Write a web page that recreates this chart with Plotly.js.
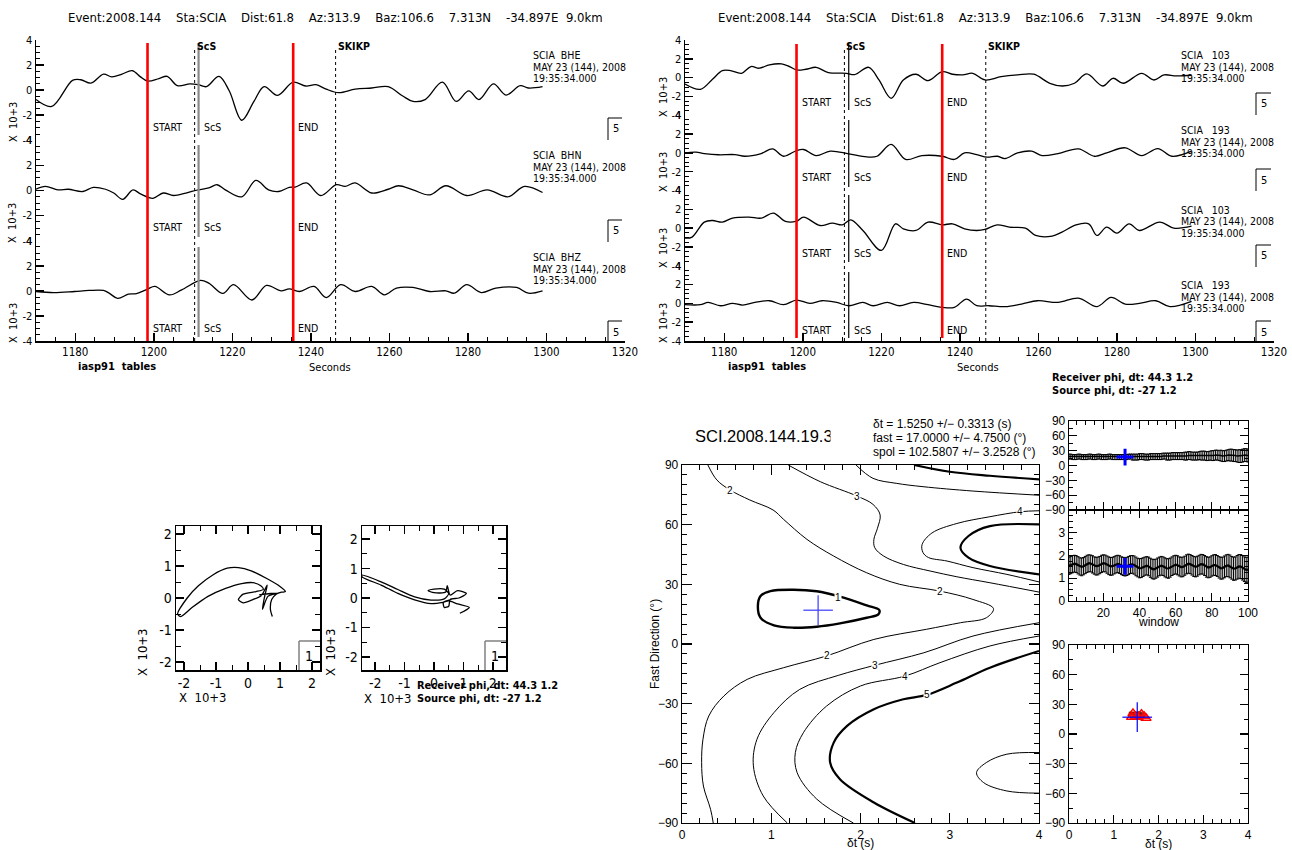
<!DOCTYPE html>
<html>
<head>
<meta charset="utf-8">
<script src="https://cdn.plot.ly/plotly-3.0.1.min.js"></script>
<style>
html,body{margin:0;padding:0;background:#fff}
#plot{width:1292px;height:850px}
</style>
</head>
<body>
<div id="plot"></div>
<script>
// ---------------- seismograms: turning points (s, x10^3 counts) ----------------
const bheT = [1170,1174.0,1179.3,1181.4,1184.0,1187.2,1189.3,1191.9,1194.5,1196.6,1198.4,1201.3,1203.4,1206.0,1209.2,1211.3,1213.4,1216.6,1219.2,1222.4,1225.5,1228.1,1231.5,1235.5,1238.7,1241.3,1243.9,1247.1,1251.3,1255.5,1259.7,1263.4,1266.0,1269.1,1273.5,1277.0,1280.2,1282.8,1286.5,1289.7,1293.3,1295.4,1299];
const bheA = [-0.75,-1.3,0.78,0.83,0.56,1.28,1.06,1.28,1.56,1.06,0.72,0.92,1.1,0.36,0.5,0.44,0.28,1.1,-0.05,-2.4,-0.9,0.28,-0.42,0.64,0.33,0.44,0.08,-0.2,0.08,0.17,0.28,-0.47,-0.9,-0.75,0.64,-0.9,-0.05,-0.75,0.5,-0.39,0.36,0.17,0.28];
const bhnT = [1170,1172.4,1175.6,1178.2,1181.9,1184.6,1187.7,1189.8,1192.1,1194.7,1196.6,1199.8,1202.4,1205.0,1208.2,1211.3,1214.0,1216.1,1218.2,1222.4,1226.0,1229.2,1231.8,1234.5,1236.0,1238.9,1242.5,1246.5,1248.7,1251.3,1255.5,1259.7,1262.3,1266.0,1270.2,1274.4,1279.7,1284.9,1290.2,1294.4,1299];
const bhnA = [0.1,0.33,0.05,0.1,-0.08,0.25,0.1,-0.2,-0.7,0.05,-0.27,-0.62,-0.2,-0.4,-0.2,0.05,0.2,0.46,0.05,-0.5,0.8,0.05,-0.08,0.25,0.27,0.6,-0.4,0.46,0.33,0.6,-0.2,0.1,0.38,0.05,-0.35,0.38,-0.4,0.05,-0.5,0.33,-0.16];
const bhzT = [1170,1174.5,1179.8,1183.5,1187.2,1188.7,1190.8,1193.5,1195.6,1198.4,1200.3,1204.0,1207.1,1211.9,1214.0,1217.6,1220.3,1225.0,1228.7,1232.4,1234.5,1237.1,1240.8,1243.9,1247.6,1251.3,1255.5,1258.7,1261.8,1266.0,1270.2,1274.4,1276.5,1279.7,1283.4,1287.1,1292.4,1295.4,1299];
const bhzA = [-0.05,-0.14,-0.05,0.03,0.03,-0.2,-0.6,-0.27,-0.22,0.14,0.35,-0.32,0.08,0.84,0.62,-0.2,0.49,-0.73,0.43,0,0.16,-0.05,0.35,-0.54,0.49,-0.05,0.35,-0.32,0.22,0.27,-0.05,0,-0.19,0.49,-0.14,0.22,0.27,-0.19,0];

// rotated components, before (a) and after (b) correction
const r103aT = [1170,1173.9,1177.0,1179.5,1181.6,1184.4,1186.8,1188.9,1191.5,1194.6,1196.6,1198.4,1200.8,1203.4,1206.5,1211.1,1213.2,1216.8,1219.4,1222.5,1225.6,1228.8,1231.9,1235.5,1238.1,1240.7,1243.3,1246.4,1250.5,1254.7,1258.8,1262.9,1266.1,1269.2,1272.3,1276.4,1279.0,1281.6,1286.3,1289.4,1292.0,1295.1,1299];
const r103aA = [-0.68,-1.25,-0.18,0.75,0.75,0.46,1.18,1.0,1.36,1.46,1.18,0.82,0.89,1.1,0.54,0.46,0.32,1.1,-0.25,-2.2,-0.25,0.36,-0.32,0.64,0.36,0.29,0.46,-0.25,0.1,0.29,0.36,-0.6,-0.89,-0.6,0.39,-0.89,-0.07,-0.6,0.46,-0.25,0.29,0.18,0.25];
const r193aT = [1170,1172.8,1174.9,1178.5,1182.7,1185.2,1189.4,1192.3,1195.1,1198.4,1200.2,1203.4,1207.0,1211.7,1216.3,1218.9,1222.5,1226.2,1230.3,1235.5,1238.6,1241.2,1244.3,1246.9,1249.5,1251.5,1254.7,1258.3,1260.9,1265.0,1270.2,1274.3,1277.4,1282.1,1286.3,1290.4,1294.0,1299];
const r193aA = [0,0.07,-0.07,-0.2,-0.18,-0.36,-0.07,0.43,-0.36,0.25,0.36,-0.29,0.18,-0.1,-0.43,-0.36,0.9,-0.7,-0.29,-0.36,-0.7,0,-0.18,-0.46,-0.36,-0.6,0,0.18,-0.29,-0.07,0.43,-0.36,0,0.54,-0.29,0.46,-0.36,0.18];
const r103bT = [1170,1171.8,1174.9,1177.0,1179.5,1182.1,1186.3,1189.4,1192.5,1195.6,1198.4,1200.2,1204.4,1207.5,1210.1,1212.2,1215.3,1220.0,1223.6,1225.6,1228.8,1231.9,1235.5,1238.1,1241.2,1244.3,1246.4,1249.5,1252.6,1256.7,1259.3,1263.5,1266.0,1269.6,1272.8,1274.9,1277.4,1280.0,1283.1,1285.7,1290.9,1294.5,1299];
const r103bA = [-1.06,-0.95,0.64,0.81,0.64,1.06,1.17,1.06,1.6,0.71,0.74,1.17,0.28,0.53,0.35,0.88,-0.25,-2.37,0.46,-0.07,-0.25,0.64,0.35,0.46,-0.07,-0.25,-0.14,0.35,0.1,0,-0.78,-0.85,-0.42,0.35,0.46,-0.78,0.1,-0.53,0.46,-0.25,0.64,0,0.2];
const r193bT = [1170,1173.9,1175.9,1179.0,1182.1,1184.7,1187.8,1191.5,1195.1,1198.4,1201.8,1204.9,1208.6,1211.7,1215.3,1217.9,1221.5,1224.6,1228.2,1231.9,1235.5,1238.6,1241.7,1244.3,1247.4,1251.5,1255.7,1259.8,1265.0,1270.2,1274.9,1278.5,1282.1,1285.7,1289.9,1293.5,1299];
const r193bA = [-0.14,-0.14,0.1,-0.25,0,-0.18,0.1,0.28,-0.14,0.35,0,0.28,0.1,-0.25,0.1,-0.25,0.1,-0.25,0.1,-0.14,-0.42,-0.42,0.46,-0.25,-0.25,-0.35,-0.07,0.28,0.1,0.56,-0.35,0.64,-0.07,0,0.28,-0.35,0.21];

// picks and predicted phases (s): [left panel, right panel]
const windowStart = [1198.4, 1198.4];
const windowEnd   = [1235.5, 1235.5];
const scsPick     = [1211.4, 1211.7];
const scsPred     = [1210.4, 1210.6];
const skikpPred   = [1246.3, 1246.6];

const leftLabels  = ['SCIA  BHE', 'SCIA  BHN', 'SCIA  BHZ'];
const rightLabels = ['SCIA   103', 'SCIA   193', 'SCIA   103', 'SCIA   193'];
const dateLine = 'MAY 23 (144), 2008';
const timeLine = '19:35:34.000';
const headerText = 'Event:2008.144    Sta:SCIA    Dist:61.8    Az:313.9    Baz:106.6    7.313N    -34.897E  9.0km';

// ---------------- particle motion (x10^3) ----------------
const pm1X = [0.76,0.70,0.74,0.88,1.05,1.17,1.00,0.60,0.10,-0.30,-0.65,-1.10,-1.55,-1.90,-2.20,-2.10,-1.75,-1.25,-0.70,-0.20,0.15,0.40,0.48,0.25,-0.15,-0.30,-0.15,0.15,0.42,0.60,0.52,0.45,0.62,0.80,1.00,0.70,0.35];
const pm1Y = [-0.58,-0.35,-0.05,0.12,0.18,0.20,0.36,0.60,0.85,0.95,0.93,0.72,0.38,0.00,-0.50,-0.58,-0.30,0.05,0.30,0.45,0.48,0.38,0.27,0.20,0.12,-0.05,-0.15,-0.05,0.08,0.40,0.05,-0.35,0.05,0.12,0.16,0.14,0.10];
const pm2X = [0.88,1.20,0.80,0.50,0.30,-0.10,-0.66,-1.23,-1.80,-2.45,-2.45,-1.80,-1.23,-0.66,-0.10,0.35,0.50,0.35,0.00,-0.20,0.00,0.40,0.45,0.55,0.80,1.10,0.85,0.55,0.50,0.35,0.32,0.60];
const pm2Y = [-0.52,-0.32,-0.20,-0.10,-0.15,-0.19,-0.06,0.16,0.44,0.72,0.78,0.55,0.29,0.04,-0.07,-0.03,0.15,0.30,0.30,0.25,0.18,0.20,0.42,0.10,0.25,0.15,0.00,-0.05,-0.28,-0.32,-0.15,-0.05];
const pmTicks = [-2, -1, 0, 1, 2];
const pmTickText = ['-2', '-1', '0', '1', '2'];
const recvText = 'Receiver phi, dt: 44.3 1.2';
const srcText  = 'Source phi, dt: -27 1.2';

// ---------------- splitting result ----------------
const bestDt = 1.525, bestDtErr = 0.3313;
const bestFast = 17.0, bestFastErr = 4.75;
const spol = 102.5807, spolErr = 3.2528;
const crossFastHalf = [15, 7.5];     // [scatter panel, grid panel]
const crossDtHalf = [0.3313, 0.1656];
const bestWindow = 32;

// energy-grid contour lines (dt s, fast deg)
const c1Dt   = [0.85,0.88,0.99,1.25,1.51,1.77,2.07,2.21,2.20,2.07,1.77,1.51,1.25,1.03,0.88,0.85];
const c1Fast = [18.8,24.1,26.6,27.3,26.5,23.8,19.4,17.1,14.9,13.2,10.4,8.7,8.2,9.4,13.2,18.8];
const c2Dt   = [0.29,0.39,0.54,0.76,1.02,1.14,1.40,1.70,2.07,2.44,2.89,3.26,3.49,3.41,3.12,2.74,2.15,1.62,1.14,0.73,0.47,0.30,0.235,0.22,0.24,0.32,0.35];
const c2Fast = [90,82.5,77.4,72.4,67.4,62.6,52.6,44.2,35.8,30.0,26.6,22.4,17.8,13.2,10.7,7.4,2.3,-6.0,-11.9,-17.8,-26.1,-36.2,-47.9,-59.6,-71.4,-83.1,-90];
const c3uDt   = [1.19,1.55,1.96,2.14,2.22,2.19,2.15,2.16,2.26,2.48,2.78,3.08,3.45,4.0];
const c3uFast = [90,81.6,74.4,70.2,64.9,58.2,52.6,48.4,44.2,40.0,36.7,33.8,30.8,26.1];
const c4tDt   = [1.95,2.14,2.40,2.70,3.26,4.0];
const c4tFast = [90,83.3,80.8,79.1,76.9,74.8];
const c5tDt   = [2.6,3.0,3.45,4.0];
const c5tFast = [90,86.6,84.6,82.8];
const c4eDt   = [4.0,3.79,3.45,3.08,2.80,2.69,2.70,2.76,2.97,3.26,3.64,4.0];
const c4eFast = [67.0,66.5,64.0,60.6,55.8,50.0,46.0,43.5,41.7,38.4,35.0,31.2];
const c5eDt   = [4.0,3.45,3.21,3.12,3.21,3.45,4.0];
const c5eFast = [60.1,59.3,54.3,48.4,43.4,39.2,35.0];
const c3lDt   = [1.18,0.91,0.80,0.84,1.03,1.32,1.75,2.16,2.71,3.26,4.0];
const c3lFast = [-90,-76.4,-61.3,-47.9,-34.5,-22.8,-15.8,-10.7,-4.4,4.0,10.7];
const c4lDt   = [1.92,1.51,1.29,1.27,1.36,1.62,2.0,2.5,2.89,3.45,4.0];
const c4lFast = [-90,-78,-64.7,-54.6,-44.6,-31.2,-21.1,-16.1,-9.4,-1.0,4.0];
const c5lDt   = [2.61,2.15,1.77,1.66,1.70,1.85,2.15,2.48,2.74,3.08,3.45,4.0];
const c5lFast = [-90,-79.7,-68,-59.6,-49.6,-41.2,-32.8,-27.8,-25.6,-19.4,-11.9,-3.5];
const c6Dt    = [4.0,3.64,3.41,3.30,3.38,3.64,4.0];
const c6Fast  = [-54.6,-55.4,-59.6,-64.7,-69.7,-73.9,-75.0];
const contourLabelDt   = [0.54,1.96,3.79,1.75,2.89,1.62,2.16,2.5,2.74];
const contourLabelFast = [77.4,74.4,66.5,23.3,26.6,-6.0,-10.7,-16.1,-25.6];
const contourLabelText = ['2','3','4','1','2','2','3','4','5'];

// per-window measurements
const fastVals = [18,18,17,17,17,18,18,17,17,17, 17,18,18,17,17,17,18,18,17,17, 17,17,18,18,17,17,17,17,17,17, 17,17,17,18,18,17,17,17,17,18, 18,18,17,17,17,18,18,18,18,18, 18,18,19,19,18,18,18,19,19,19, 19,19,19,19,19,19,20,20,19,19, 19,19,20,20,20,20,19,19,20,20, 20,21,21,20,20,19,19,20,21,21, 21,20,20,19,19,19,20,21,21,20];
const fastErr  = [5,5,5,5,5,5,5,5,5,5, 5,5,5,5,5,5,5,5,5,5, 5,5,5,5,5,5,5,5,5,5, 5,5,5,5,5,6,6,6,6,6, 6,6,6,6,6,6,6,6,6,6, 6,6,6,6,7,7,7,7,7,7, 7,7,7,7,8,8,8,8,8,8, 8,8,8,9,9,9,9,9,9,10, 10,10,10,10,11,11,11,11,11,12, 12,12,12,12,13,13,13,13,13,13];
const dtVals = [1.55,1.58,1.62,1.64,1.62,1.57,1.52,1.50,1.53,1.58, 1.63,1.66,1.65,1.61,1.56,1.53,1.54,1.58,1.63,1.66, 1.65,1.60,1.55,1.52,1.53,1.57,1.61,1.63,1.60,1.55, 1.52,1.50,1.52,1.56,1.60,1.61,1.58,1.52,1.47,1.44, 1.45,1.49,1.53,1.55,1.52,1.46,1.41,1.39,1.42,1.47, 1.52,1.55,1.53,1.48,1.44,1.43,1.47,1.53,1.58,1.60, 1.57,1.52,1.49,1.50,1.55,1.61,1.64,1.62,1.57,1.52, 1.50,1.53,1.58,1.62,1.61,1.56,1.50,1.47,1.49,1.54, 1.58,1.58,1.54,1.48,1.44,1.45,1.50,1.55,1.56,1.52, 1.46,1.42,1.43,1.48,1.52,1.51,1.46,1.40,1.37,1.38];
const dtErr = [0.38,0.38,0.38,0.37,0.37,0.38,0.38,0.39,0.38,0.38, 0.38,0.37,0.37,0.38,0.38,0.39,0.39,0.38,0.38,0.37, 0.37,0.38,0.39,0.39,0.39,0.38,0.38,0.38,0.39,0.39, 0.40,0.40,0.40,0.40,0.39,0.39,0.40,0.41,0.41,0.42, 0.42,0.41,0.40,0.40,0.41,0.42,0.43,0.43,0.42,0.42, 0.41,0.41,0.41,0.42,0.42,0.43,0.42,0.41,0.41,0.41, 0.42,0.42,0.43,0.43,0.42,0.42,0.42,0.42,0.43,0.44, 0.44,0.44,0.43,0.43,0.43,0.44,0.45,0.45,0.45,0.45, 0.45,0.46,0.46,0.47,0.48,0.48,0.48,0.48,0.49,0.50, 0.50,0.51,0.51,0.52,0.52,0.53,0.54,0.54,0.55,0.55];
const clusterDt   = [1.43,1.62,1.48,1.55,1.68,1.40,1.72];
const clusterFast = [20.9,20.2,18,17,18,17,16];

// ---------------- geometry helpers ----------------
const W = 1292, H = 850;
const X = p => p / W;
const Y = p => 1 - p / H;
const domX = (a, b) => [X(a), X(b)];
const domY = (top, bot) => [Y(bot), Y(top)];
const SAC = 'DejaVu Sans Condensed, Liberation Sans Narrow, sans-serif';
const HEL = 'Liberation Sans, Arial, sans-serif';
const BLACK = '#000';

const traces = [];
const shapes = [];
const annotations = [];

function note(px, py, text, opt) {
  return Object.assign({
    xref: 'paper', yref: 'paper', x: X(px), y: Y(py), text: text,
    showarrow: false, xanchor: 'left', yanchor: 'middle',
    font: {family: SAC, size: 11, color: BLACK}
  }, opt || {});
}

function wave(t, a, xa, ya) {
  traces.push({x: t, y: a, xaxis: xa, yaxis: ya, type: 'scatter', mode: 'lines',
    line: {color: BLACK, width: 1.3, shape: 'spline', smoothing: 1}, hoverinfo: 'skip'});
}

// ---------------- seismogram panels ----------------
const leftTracks = [[40, 140.3], [140.3, 240.7], [240.7, 341]];
const rightTracks = [[40, 115.25], [115.25, 190.5], [190.5, 265.75], [265.75, 341]];
const leftWaves = [[bheT, bheA], [bhnT, bhnA], [bhzT, bhzA]];
const rightWaves = [[r103aT, r103aA], [r193aT, r193aA], [r103bT, r103bA], [r193bT, r193bA]];

function sacX(dom, anchor) {
  return {domain: dom, anchor: anchor, range: [1170, 1320], showline: true, linecolor: BLACK, linewidth: 1.5,
    ticks: 'inside', ticklen: 8, tickwidth: 1.5, tickcolor: BLACK, tickmode: 'linear', tick0: 1180, dtick: 20,
    minor: {tickmode: 'linear', tick0: 1180, dtick: 5, ticks: 'inside', ticklen: 4, tickwidth: 1, tickcolor: BLACK},
    showgrid: false, zeroline: false, tickfont: {family: SAC, size: 11.5, color: BLACK}, fixedrange: true};
}
function sacY(dom, anchor) {
  return {domain: dom, anchor: anchor, range: [-4, 4], showline: true, linecolor: BLACK, linewidth: 1.5,
    ticks: 'inside', ticklen: 8, tickwidth: 1.5, tickcolor: BLACK, tickmode: 'array',
    tickvals: [-4, -2, 0, 2, 4], ticktext: ['-4', '-2', '0', '2', '4'],
    minor: {tickmode: 'linear', tick0: 0, dtick: 0.5, ticks: 'inside', ticklen: 4, tickwidth: 1, tickcolor: BLACK},
    showgrid: false, zeroline: false, tickfont: {family: SAC, size: 11, color: BLACK}, fixedrange: true};
}

const layout = {
  width: W, height: H, margin: {l: 0, r: 0, t: 0, b: 0},
  paper_bgcolor: '#fff', plot_bgcolor: 'rgba(0,0,0,0)', showlegend: false,
  shapes: shapes, annotations: annotations
};

// left panel: original components
layout.xaxis = sacX(domX(36, 625), 'y3');
leftTracks.forEach((tr, i) => {
  const yName = i === 0 ? 'yaxis' : 'yaxis' + (i + 1);
  layout[yName] = sacY(domY(tr[0], tr[1]), 'x');
  wave(leftWaves[i][0], leftWaves[i][1], 'x', i === 0 ? 'y' : 'y' + (i + 1));
});
// right panel: rotated components
layout.xaxis2 = sacX(domX(685, 1274), 'y7');
rightTracks.forEach((tr, i) => {
  layout['yaxis' + (i + 4)] = sacY(domY(tr[0], tr[1]), 'x2');
  wave(rightWaves[i][0], rightWaves[i][1], 'x2', 'y' + (i + 4));
});

function phaseMarks(xa, k, redTop, redBot, segs, scsColor, scsWidth) {
  [windowStart[k], windowEnd[k]].forEach(t => shapes.push({type: 'line', xref: xa, yref: 'paper',
    x0: t, x1: t, y0: Y(redBot), y1: Y(redTop), line: {color: '#ff0000', width: 2.6}}));
  [scsPred[k], skikpPred[k]].forEach(t => shapes.push({type: 'line', xref: xa, yref: 'paper',
    x0: t, x1: t, y0: Y(341), y1: Y(47), line: {color: BLACK, width: 1, dash: 'dot'}}));
  segs.forEach(s => shapes.push({type: 'line', xref: xa, yref: 'paper',
    x0: scsPick[k], x1: scsPick[k], y0: Y(s[1]), y1: Y(s[0]), line: {color: scsColor, width: scsWidth}}));
  const bold = {family: SAC, size: 10.5, color: BLACK};
  annotations.push({xref: xa, yref: 'paper', x: scsPred[k], y: Y(46), text: '<b>ScS</b>', showarrow: false,
    xanchor: 'left', yanchor: 'middle', font: bold});
  annotations.push({xref: xa, yref: 'paper', x: skikpPred[k], y: Y(46), text: '<b>SKIKP</b>', showarrow: false,
    xanchor: 'left', yanchor: 'middle', font: bold});
}
phaseMarks('x', 0, 43, 341, [[43, 135], [145, 237], [247, 337]], '#8a8a8a', 2.2);
phaseMarks('x2', 1, 44, 338, [[43, 110], [120, 187], [195, 262], [272, 338]], BLACK, 1.2);

function trackNotes(xa, k, rows, labelX, labels, labelTops, bracketX0, bracketX1, bracketTops, bottoms, sideX) {
  rows.forEach(py => {
    [[windowStart[k], 'START'], [scsPick[k], 'ScS'], [windowEnd[k], 'END']].forEach(p => {
      annotations.push({xref: xa, yref: 'paper', x: p[0], y: Y(py), xshift: 3, text: p[1], showarrow: false,
        xanchor: 'left', yanchor: 'middle', font: {family: SAC, size: 10.5, color: BLACK}});
    });
  });
  labels.forEach((lab, i) => {
    const t = labelTops[i];
    annotations.push(note(labelX, t, lab, {font: {family: SAC, size: 10.5, color: BLACK}}));
    annotations.push(note(labelX, t + 11.5, dateLine, {font: {family: SAC, size: 10.5, color: BLACK}}));
    annotations.push(note(labelX, t + 23, timeLine, {font: {family: SAC, size: 10.5, color: BLACK}}));
  });
  bracketTops.forEach(t => {
    shapes.push({type: 'line', xref: 'paper', yref: 'paper', x0: X(bracketX0), x1: X(bracketX0), y0: Y(t + 22), y1: Y(t), line: {color: BLACK, width: 1}});
    shapes.push({type: 'line', xref: 'paper', yref: 'paper', x0: X(bracketX0), x1: X(bracketX1), y0: Y(t), y1: Y(t), line: {color: BLACK, width: 1}});
    annotations.push(note(bracketX0 + 3, t + 11, '5'));
  });
  bottoms.forEach(b => annotations.push(note(sideX, b - 18, 'X  10+3', {textangle: -90, xanchor: 'center'})));
}
trackNotes('x', 0, [127, 227, 328], 531, leftLabels, [55, 155, 257], 608, 622, [118, 220, 321], [140, 241, 341], 13);
trackNotes('x2', 1, [102, 177, 253, 330], 1179, rightLabels, [55, 130, 210, 285], 1256, 1271, [93, 169, 245, 321], [115, 190, 266, 341], 663);

annotations.push(note(66, 17, headerText, {font: {family: SAC, size: 13, color: BLACK}}));
annotations.push(note(716, 17, headerText, {font: {family: SAC, size: 13, color: BLACK}}));
annotations.push(note(76, 366, '<b>iasp91  tables</b>'));
annotations.push(note(726, 366, '<b>iasp91  tables</b>'));
annotations.push(note(330, 368, 'Seconds', {xanchor: 'center'}));
annotations.push(note(978, 368, 'Seconds', {xanchor: 'center'}));
annotations.push(note(1050, 377, '<b>' + recvText + '</b>'));
annotations.push(note(1050, 391, '<b>' + srcText + '</b>'));

// ---------------- particle motion ----------------
function pmAxis(dom, anchor, lim) {
  return {domain: dom, anchor: anchor, range: [-lim, lim], showline: true, mirror: 'allticks', linecolor: BLACK, linewidth: 1.5,
    ticks: 'inside', ticklen: 8, tickwidth: 1.5, tickcolor: BLACK, tickmode: 'array', tickvals: pmTicks, ticktext: pmTickText,
    minor: {tickmode: 'linear', tick0: 0, dtick: 0.5, ticks: 'inside', ticklen: 5, tickwidth: 1, tickcolor: BLACK},
    showgrid: false, zeroline: false, tickfont: {family: SAC, size: 14, color: BLACK}, fixedrange: true};
}
layout.xaxis3 = pmAxis(domX(176, 320), 'y8', 2.25);
layout.yaxis8 = pmAxis(domY(526, 670), 'x3', 2.25);
layout.xaxis4 = pmAxis(domX(362, 506), 'y9', 2.45);
layout.yaxis9 = pmAxis(domY(526, 670), 'x4', 2.45);
traces.push({x: pm1X, y: pm1Y, xaxis: 'x3', yaxis: 'y8', type: 'scatter', mode: 'lines',
  line: {color: BLACK, width: 1.3, shape: 'spline', smoothing: 0.7}, hoverinfo: 'skip'});
traces.push({x: pm2X, y: pm2Y, xaxis: 'x4', yaxis: 'y9', type: 'scatter', mode: 'lines',
  line: {color: BLACK, width: 1.3, shape: 'spline', smoothing: 0.7}, hoverinfo: 'skip'});
[[299, 320], [485, 506]].forEach(b => {
  shapes.push({type: 'line', xref: 'paper', yref: 'paper', x0: X(b[0]), x1: X(b[0]), y0: Y(670), y1: Y(641), line: {color: '#808080', width: 1.5}});
  shapes.push({type: 'line', xref: 'paper', yref: 'paper', x0: X(b[0]), x1: X(b[1]), y0: Y(641), y1: Y(641), line: {color: '#808080', width: 1.5}});
  annotations.push(note(b[0] + 10, 656, '1', {xanchor: 'center', font: {family: SAC, size: 14, color: BLACK}}));
});
annotations.push(note(142, 652, 'X  10+3', {textangle: -90, xanchor: 'center', font: {family: SAC, size: 13, color: BLACK}}));
annotations.push(note(330, 652, 'X  10+3', {textangle: -90, xanchor: 'center', font: {family: SAC, size: 13, color: BLACK}}));
annotations.push(note(177, 697, 'X  10+3', {font: {family: SAC, size: 13, color: BLACK}}));
annotations.push(note(362, 698, 'X  10+3', {font: {family: SAC, size: 13, color: BLACK}}));
annotations.push(note(415, 685, '<b>' + recvText + '</b>', {font: {family: SAC, size: 11, color: BLACK}}));
annotations.push(note(415, 698, '<b>' + srcText + '</b>', {font: {family: SAC, size: 11, color: BLACK}}));

// ---------------- splitting grid (contours) ----------------
function boxAxis(dom, anchor, range, dtick, minor, len, opts) {
  return Object.assign({domain: dom, anchor: anchor, range: range, showline: true, mirror: 'allticks', linecolor: BLACK, linewidth: 1.3,
    ticks: 'inside', ticklen: len, tickwidth: 1.3, tickcolor: BLACK, tickmode: 'linear', tick0: 0, dtick: dtick,
    minor: {tickmode: 'linear', tick0: 0, dtick: minor, ticks: 'inside', ticklen: len / 2, tickwidth: 1, tickcolor: BLACK},
    showgrid: false, zeroline: false, tickfont: {family: HEL, size: 12, color: BLACK}, fixedrange: true}, opts || {});
}
layout.xaxis5 = boxAxis(domX(682, 1039), 'y10', [0, 4], 1, 0.2, 10);
layout.yaxis10 = boxAxis(domY(465, 823), 'x5', [-90, 90], 30, 5, 10);

const contourLines = [
  [c1Dt, c1Fast, 2.4], [c2Dt, c2Fast, 1], [c3uDt, c3uFast, 1], [c4tDt, c4tFast, 1], [c5tDt, c5tFast, 2.2],
  [c4eDt, c4eFast, 1], [c5eDt, c5eFast, 2.2], [c3lDt, c3lFast, 1], [c4lDt, c4lFast, 1], [c5lDt, c5lFast, 2.2], [c6Dt, c6Fast, 1]
];
contourLines.forEach(c => traces.push({x: c[0], y: c[1], xaxis: 'x5', yaxis: 'y10', type: 'scatter', mode: 'lines',
  line: {color: BLACK, width: c[2], shape: 'spline', smoothing: 1}, hoverinfo: 'skip'}));
contourLabelText.forEach((t, i) => annotations.push({xref: 'x5', yref: 'y10', x: contourLabelDt[i], y: contourLabelFast[i],
  text: t, showarrow: false, bgcolor: '#fff', borderpad: 0, font: {family: HEL, size: 10, color: BLACK}}));
traces.push({
  x: [bestDt - crossDtHalf[1], bestDt + crossDtHalf[1], null, bestDt, bestDt],
  y: [bestFast, bestFast, null, bestFast - crossFastHalf[1], bestFast + crossFastHalf[1]],
  xaxis: 'x5', yaxis: 'y10', type: 'scatter', mode: 'lines', line: {color: '#3a3aff', width: 1.2}, hoverinfo: 'skip'});

annotations.push(note(693, 436, 'SCI.2008.144.19.35', {font: {family: HEL, size: 16.5, color: BLACK}}));
annotations.push(note(830, 436, ' ', {width: 40, height: 36, bgcolor: '#fff', borderpad: 0}));
const statLines = [
  'δt = ' + bestDt.toFixed(4) + ' +/− ' + bestDtErr.toFixed(4) + ' (s)',
  'fast = ' + bestFast.toFixed(4) + ' +/− ' + bestFastErr.toFixed(4) + ' (°)',
  'spol = ' + spol.toFixed(4) + ' +/− ' + spolErr.toFixed(4) + ' (°)'
];
statLines.forEach((s, i) => annotations.push(note(871, 424 + 14 * i, s, {font: {family: HEL, size: 12, color: BLACK}})));
annotations.push(note(860, 843, 'δt (s)', {xanchor: 'center', font: {family: HEL, size: 12, color: BLACK}}));
annotations.push(note(655, 644, 'Fast Direction (°)', {textangle: -90, xanchor: 'center', font: {family: HEL, size: 12, color: BLACK}}));

// ---------------- window analysis panels ----------------
const windows = fastVals.map((_, i) => i + 1);
layout.xaxis6 = boxAxis(domX(1069, 1248), 'y11', [1, 100], 20, 5, 8, {showticklabels: false});
layout.yaxis11 = boxAxis(domY(421, 510), 'x6', [-90, 90], 30, 15, 8);
layout.xaxis7 = boxAxis(domX(1069, 1248), 'y12', [1, 100], 20, 5, 8);
layout.yaxis12 = boxAxis(domY(510, 601), 'x7', [0, 4], 1, 0.25, 8, {tickmode: 'array', tickvals: [0, 1, 2, 3]});
layout.xaxis8 = boxAxis(domX(1069, 1248), 'y13', [0, 4], 1, 0.2, 8);
layout.yaxis13 = boxAxis(domY(645, 823), 'x8', [-90, 90], 30, 15, 8);

traces.push({x: windows, y: fastVals, xaxis: 'x6', yaxis: 'y11', type: 'scatter', mode: 'lines',
  line: {color: BLACK, width: 1.5}, error_y: {type: 'data', array: fastErr, color: BLACK, thickness: 1, width: 1.5}, hoverinfo: 'skip'});
traces.push({x: windows, y: dtVals, xaxis: 'x7', yaxis: 'y12', type: 'scatter', mode: 'lines',
  line: {color: BLACK, width: 2.2}, error_y: {type: 'data', array: dtErr, color: BLACK, thickness: 1, width: 1.5}, hoverinfo: 'skip'});
traces.push({x: [bestWindow], y: [bestFast], xaxis: 'x6', yaxis: 'y11', type: 'scatter', mode: 'markers',
  marker: {symbol: 'cross-thin-open', size: 12, color: '#0000ff', line: {color: '#0000ff', width: 3}}, hoverinfo: 'skip'});
traces.push({x: [bestWindow], y: [bestDt], xaxis: 'x7', yaxis: 'y12', type: 'scatter', mode: 'markers',
  marker: {symbol: 'cross-thin-open', size: 12, color: '#0000ff', line: {color: '#0000ff', width: 3}}, hoverinfo: 'skip'});
annotations.push(note(1158, 622, 'window', {xanchor: 'center', font: {family: HEL, size: 12, color: BLACK}}));

traces.push({x: dtVals, y: fastVals, xaxis: 'x8', yaxis: 'y13', type: 'scatter', mode: 'markers',
  marker: {symbol: 'square', size: 3, color: BLACK}, hoverinfo: 'skip'});
traces.push({x: clusterDt, y: clusterFast, xaxis: 'x8', yaxis: 'y13', type: 'scatter', mode: 'markers',
  marker: {symbol: 'triangle-up', size: 9, color: 'rgba(255,60,60,0.45)', line: {color: '#ff0000', width: 1.3}}, hoverinfo: 'skip'});
traces.push({
  x: [bestDt - crossDtHalf[0], bestDt + crossDtHalf[0], null, bestDt, bestDt],
  y: [bestFast, bestFast, null, bestFast - crossFastHalf[0], bestFast + crossFastHalf[0]],
  xaxis: 'x8', yaxis: 'y13', type: 'scatter', mode: 'lines', line: {color: '#0000ff', width: 1.2}, hoverinfo: 'skip'});
annotations.push(note(1158, 844, 'δt (s)', {xanchor: 'center', font: {family: HEL, size: 12, color: BLACK}}));

Plotly.newPlot('plot', traces, layout, {staticPlot: true, displayModeBar: false});
</script>
</body>
</html>
